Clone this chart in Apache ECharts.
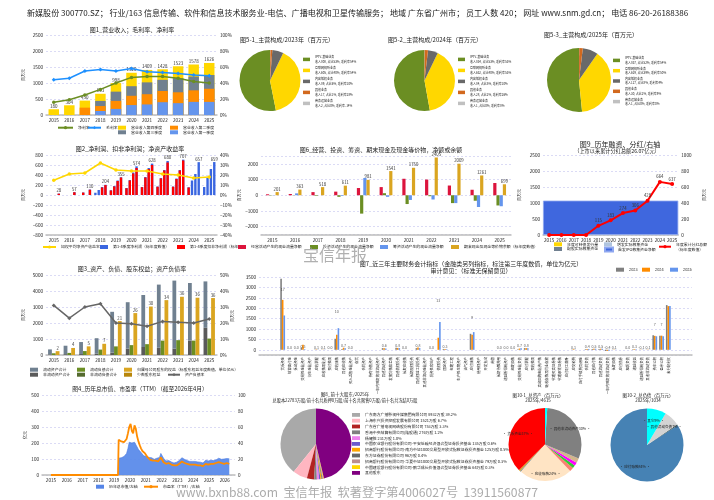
<!DOCTYPE html>
<html><head><meta charset="utf-8">
<script src="https://cdn.jsdelivr.net/npm/echarts@6/dist/echarts.min.js"></script>
<style>html,body{margin:0;padding:0;background:#fff}#c{position:absolute;left:0;top:0;width:714px;height:500px}</style>
</head><body><div id="c"></div>
<script>
// ---------------- DATA ----------------
const years = ['2015','2016','2017','2018','2019','2020','2021','2022','2023','2024','2025'];
// 图1 营业收入（累计，百万元）与利润率（%）
const revQ1   = [null,null,null,125,190,310,330,400,370,410,410];
const revH1   = [null,null,230,280,440,600,650,750,710,770,820];
const rev9M   = [null,null,null,440,730,900,1020,1100,1150,1200,1250];
const revYear = [180,304,450,663,998,1320,1409,1428,1523,1578,1626];
const netMargin   = [16,19,25,32,40,47,48,48,46,42,40];
const grossMargin = [44,46,55,57,55,58,54,53,52,50,49];
// 图2 净利润 / 扣非净利润（累计，百万元），ROE（%）
const npQ1   = [null,null,null,45,95,140,160,170,170,155,160];
const npH1   = [null,null,50,100,180,300,360,340,330,290,340];
const np9M   = [null,null,null,160,290,450,540,500,500,420,520];
const npYear = [28,57,110,204,355,574,628,680,707,657,659];
const dnpQ1   = [null,null,null,null,90,135,155,165,165,150,null];
const dnpH1   = [null,null,48,null,170,290,350,330,320,null,null];
const dnp9M   = [null,null,null,150,280,430,520,490,490,null,null];
const dnpYear = [26,55,105,198,350,540,600,650,690,null,null];
const roe = [14.7,21,22,32,25,24,24,21,20,17,18];
// 图6 现金流（百万元）
const cfOper   = [60,80,200,230,460,520,1050,1000,620,350,780];
const cfInvest = [-20,10,-40,-100,-1170,130,-560,-60,-500,-350,-650];
const cfFinance= [-10,120,0,-40,1100,-100,-300,-270,-500,-750,-700];
const cashEnd  = [201,363,518,611,981,1541,1750,2405,2009,1261,699];
// 图9 融资、分红
const convBond  = [0,0,0,0,0,0,0,0,0,0,0];
const placement = [0,0,0,0,0,0,0,0,0,0,0];
const rightsIss = [0,0,0,0,0,0,0,0,0,0,0];
const ipoNet    = [1075];
const dividends = [0,0,0,0,115,183,274,306,428,664,637];
// 图3 资产负债（百万元）
const curAssets    = [310,530,750,970,2550,2900,3250,3950,4250,3600,2900];
const nonCurAssets = [40,50,60,80,150,400,500,450,400,900,1700];
const curLiab      = [105,125,245,335,535,615,675,895,925,895,1020];
const nonCurLiab   = [5,5,5,5,5,5,5,5,5,5,10];
const parentEquity = [240,440,540,700,2120,2620,3030,3430,3640,3580,3560];
const minorityEq   = [0,0,0,0,0,0,0,0,0,0,0];
const debtRatio    = [31,23,30,32,20,19.5,18,21,20.5,20,22.5];
// 图7 近三年主要财务会计指标（百万元）
const cats7 = ['货币资金','结算备付金','拆出资金','交易性金融资产','衍生金融资产','应收票据','应收款项融资','预付款项','应收账款','其他应收款','买入返售金融资产','存货','合同资产','持有待售资产','一年内到期的非流动资产','其他流动资产','发放贷款和垫款','其他债权投资','长期应收款','长期股权投资','其他权益工具投资','其他非流动金融资产','投资性房地产','债权投资','固定资产','在建工程','生产性生物资产','油气资产','应付账款','使用权资产','开发支出','商誉','长期待摊费用','递延所得税资产','短期借款','交易性金融负债','应付票据','预收款项','卖出回购金融资产款','吸收存款及同业存放','代理买卖证券款','代理承销证券款','应付职工薪酬','应交税费','应付手续费及佣金','合同负债','其他应付款','其他流动负债','一年内到期的非流动负债','长期借款','应付债券','租赁负债','递延收益','递延所得税负债','其他非流动负债','资本公积','盈余公积','未分配利润'];
const fin2023 = [3420,0,0,100,null,10,10,0,530,40,0,null,null,null,null,80,null,100,0,null,80,null,0,0,40,null,null,null,770,null,null,null,0,0,0,30,80,null,null,null,null,null,null,20,null,30,40,40,-60,10,null,0,30,-10,10,700,680,2150];
const fin2024 = [2400,0,0,240,null,20,10,0,720,100,0,null,null,null,null,80,null,90,0,null,110,null,0,580,40,null,null,null,720,null,null,null,0,0,0,60,80,null,null,null,null,null,null,30,null,40,50,50,-50,10,null,0,30,-10,10,670,680,2100];
const fin2025 = [1650,0,0,30,null,10,10,0,1040,70,0,null,null,null,null,60,null,80,0,null,80,null,0,1340,30,null,null,null,850,null,null,null,0,0,0,70,80,null,null,null,null,null,null,10,null,40,50,50,-40,10,null,0,30,-10,10,650,650,2100];
// 图4 总市值（亿元）与市盈率TTM，月度，自2019-04起
const preListDates = ['2015-01-01','2016-01-01','2017-01-01','2018-01-01','2019-01-01','2019-03-31'];
const preListVals  = [0,0,0,0,0,0];
const mktCap = [105,110,108,112,115,118,135,165,205,
 215,200,190,205,200,175,160,150,140,130,120,118,
 115,112,110,105,108,100,98,102,105,100,110,135,
 120,105,95,88,85,90,85,82,78,75,78,80,
 85,90,100,108,105,98,95,90,88,85,88,85,
 80,85,88,82,85,80,78,75,85,92,90,88,
 90,92,95,90,92,95,100,105,102,98,95,100,
 105,103,100,101];
const peTTM = [44,45,42,42,41,43,45,52,60,
 64,55,52,62,58,48,42,37,33,30,28,27,
 25,22,20,19,19,18,17,18,18,17,18,22,
 19,16,15,14,14,15,14,13,12,12,12,12,
 13,14,15,17,16,15,14,14,13,13,14,13,
 12,13,13,12,13,12,12,11,13,14,14,13,
 14,14,15,14,14,15,15,16,15,15,14,14,
 15,15,14,14];
// 图5 主营构成
const segNames = ['IPTV-基础业务','互联网视听业务','内容版权业务','其他业务','商务运营业务'];
const seg2023Rev = [808,605,89,17,2];   const seg2023Margin = [54,54,10,28,-14];
const seg2024Rev = [834,632,84,28,1];   const seg2024Margin = [53,53,10,26,8];
const seg2025Rev = [837,629,127,30,1];  const seg2025Margin = [54,50,4,9,0];
// 图8 前十大股东（万股）
const holderNames = ['广东南方广播影视传媒集团有限公司','上海东兴投资控股发展有限公司','广东省广播电视网络股份有限公司','香港中央结算有限公司(陆股通)','杨耀胜','中国农业银行股份有限公司-平安低碳经济混合型证券投资基金','招商银行股份有限公司-南方中证1000交易型开放式指数证券投资基金','东方证券股份有限公司','招商银行股份有限公司-华夏中证1000交易型开放式指数证券投资基金','中国建设银行股份有限公司-鹏华成长价值混合型证券投资基金','其他股东'];
const holderShares = [8932,1521,753,276,231,135,125,96,79,64,10571];
const totalShares = 22783;
// 图10 资产/负债构成（百万元）
const assetNames = ['货币资金','交易性金融资产','预付款项','应收账款','其他应收款','存货','固定资产','无形资产','其他非流动资产','其他流动资产'];
const assetVals  = [1708,30,20,1080,80,60,70,90,1385,45];
const liabNames = ['应付账款','应交税费','其他流动负债','其它'];
const liabVals  = [869,5,72,88];

// ---------------- STYLE ----------------
const FONT = '"Noto Sans CJK SC","Noto Sans",sans-serif';
const C = {yellow:'#FFD700',orange:'#FF8C00',slate:'#708090',corn:'#6495ED',olive:'#6B8E23',dodger:'#1E90FF',
  royal:'#3F6FE0',red:'#FF0000',crimson:'#DC143C',gold:'#DAA520',dgold:'#B8860B',lsteel:'#B0C4DE',dgrey:'#5A5A5A',dolive:'#556B2F',grey:'#808080'};
const segColors = ['#6B8E23','#FFD700','#696969','#D2691E','#C0C0C0'];
const holderColors = ['#A9A9A9','#FFB6C1','#B22222','#808080','#EE82EE','#6A5ACD','#FFA500','#696969','#BC8F8F','#FFD700','#800080'];
const assetColors = ['#FF0000','#DAA520','#708090','#FFE4C4','#FA8072','#32CD32','#FF00FF','#D2B48C','#808080','#00FFFF'];
const liabColors = ['#4682B4','#2F4F4F','#D3D3D3','#00FFFF'];

function merge(a,b){for(const k in b){const v=b[k];if(v&&typeof v==='object'&&!Array.isArray(v)&&a[k]&&typeof a[k]==='object'&&!Array.isArray(a[k])){a[k]=merge(Object.assign({},a[k]),v);}else a[k]=v;}return a;}
const opt={animation:false,backgroundColor:'#fff',textStyle:{fontFamily:FONT},title:[],grid:[],xAxis:[],yAxis:[],legend:[],series:[],graphic:[]};
const GL={show:true,lineStyle:{color:'#c4c4ee',type:[2,2],width:0.6}};
const neg = v=>String(v).replace('-','−');
function grid(l,t,w,h){opt.grid.push({left:l,top:t,width:w,height:h,containLabel:false,outerBoundsMode:'none'});return opt.grid.length-1;}
function xcat(g,data,o){opt.xAxis.push(merge({type:'category',gridIndex:g,data,axisTick:{show:false},axisLine:{onZero:false,lineStyle:{color:'#bdbdbd',width:1.5}},axisLabel:{fontSize:4.6,color:'#222',margin:3,fontFamily:FONT,interval:0},splitLine:{show:false}},o||{}));return opt.xAxis.length-1;}
function yval(g,o){opt.yAxis.push(merge({type:'value',gridIndex:g,axisLine:{show:false},axisTick:{show:false},axisLabel:{fontSize:4.6,color:'#222',margin:3,fontFamily:FONT,formatter:neg},splitLine:GL,nameTextStyle:{fontSize:4,fontFamily:FONT,color:'#222'},nameLocation:'middle',nameRotate:90},o||{}));return opt.yAxis.length-1;}
function txt(text,x,y,size,o){opt.graphic.push({type:'text',x,y,z:50,silent:true,style:merge({text,fontSize:size,fontFamily:FONT,fill:'#222',align:'center',verticalAlign:'middle',textAlign:'center',textVerticalAlign:'middle'},o||{})});}
function legItem(name,x,yc,o){o=o||{};const fs=o.fs||3.9,ih=o.ih||4,lines=o.lines||1;const h=Math.max(ih,fs*1.3*lines);
  opt.legend.push(merge({data:[name],left:x,top:yc-h/2,padding:0,itemGap:0,itemWidth:o.iw||8,itemHeight:ih,selectedMode:false,
  textStyle:{fontSize:fs,fontFamily:FONT,color:'#222',lineHeight:fs*1.3}},o.extra||{}));}
const lbl=(fs,o)=>merge({show:true,position:'top',fontSize:fs,fontFamily:FONT,color:'#333',distance:1},o||{});

// ---------------- HEADER & WATERMARKS ----------------
txt('新媒股份 300770.SZ； 行业/163 信息传输、软件和信息技术服务业-电信、广播电视和卫星传输服务； 地域 广东省广州市； 员工人数 420； 网址 www.snm.gd.cn； 电话 86-20-26188386',27,13,8.05,{align:'left',textAlign:'left'});

// ---------------- 图1 ----------------
{
 const g=grid(46,35,171,80);
 const x=xcat(g,years);
 const yl=yval(g,{min:0,max:2500,interval:500,name:'百万元',nameGap:21});
 const yr=yval(g,{min:0,max:100,interval:20,position:'right',splitLine:{show:false},axisLabel:{formatter:v=>v+'%'}});
 const bar=(name,data,color,extra)=>opt.series.push(merge({type:'bar',name,data,xAxisIndex:x,yAxisIndex:yl,barWidth:10.5,barGap:'-100%',itemStyle:{color}},extra||{}));
 bar('营业收入第四季度',revYear,C.yellow,{label:lbl(4.5)});
 bar('营业收入第三季度',rev9M,C.slate);
 bar('营业收入第二季度',revH1,C.orange);
 bar('营业收入第一季度',revQ1,C.corn);
 opt.series.push({type:'line',name:'净利率',data:netMargin,xAxisIndex:x,yAxisIndex:yr,color:C.olive,lineStyle:{width:1.5},symbol:'circle',symbolSize:3.5,z:5});
 opt.series.push({type:'line',name:'毛利率',data:grossMargin,xAxisIndex:x,yAxisIndex:yr,color:C.dodger,lineStyle:{width:1.5},symbol:'diamond',symbolSize:4,z:5});
 txt('图1_营业收入；毛利率、净利率',132,29.5,6);
 legItem('净利率',57,127.7,{iw:15});
 legItem('毛利率',87,127.7,{iw:13});
 legItem('营业收入第四季度',118,127.7,{extra:{icon:'rect'}});
 legItem('营业收入第二季度',170,127.7,{extra:{icon:'rect'}});
 legItem('营业收入第三季度',118,132.3,{extra:{icon:'rect'}});
 legItem('营业收入第一季度',170,132.3,{extra:{icon:'rect'}});
}
// ---------------- 图2 ----------------
{
 const g=grid(46,155,171,80);
 const xa=xcat(g,years);
 const xb=xcat(g,years,{show:false});
 const yl=yval(g,{min:-800,max:800,interval:200,name:'百万元',nameGap:21});
 const yr=yval(g,{min:-40,max:40,interval:10,position:'right',splitLine:{show:false},axisLabel:{formatter:v=>neg(v)+'%'}});
 const sb=(name,data,xi,color,extra)=>opt.series.push(merge({type:'bar',name,data,xAxisIndex:xi,yAxisIndex:yl,barWidth:2.4,barGap:'40%',itemStyle:{color}},extra||{}));
 sb('np1',npQ1,xa,'#3A66E0');sb('np2',npH1,xa,'#3A66E0');sb('np3',np9M,xa,'#3A66E0');
 sb('第1-4季度净利润（标年度数值）',npYear,xa,'#3A66E0',{label:lbl(4.3)});
 sb('dnp1',dnpQ1,xb,C.red);sb('dnp2',dnpH1,xb,C.red);sb('dnp3',dnp9M,xb,C.red);
 sb('第1-4季度扣非净利润（标年度数值）',dnpYear,xb,C.red);
 opt.series.push({type:'line',name:'加权平均净资产收益率',data:roe,xAxisIndex:xa,yAxisIndex:yr,color:C.yellow,lineStyle:{width:1.5},symbol:'circle',symbolSize:3.5,z:5});
 txt('图2_净利润、扣非净利润；净资产收益率',130,149,6);
 legItem('加权平均净资产收益率',42,247,{iw:13});
 legItem('第1-4季度净利润（标年度数值）',100,247,{extra:{icon:'rect'}});
 legItem('第1-4季度扣非净利润（标年度数值）',177,247,{extra:{icon:'rect',textStyle:{width:50,overflow:'truncate',ellipsis:''}}});
}
// ---------------- 图6 ----------------
{
 const g=grid(261,156,250,78.5);
 const x=xcat(g,years);
 const y=yval(g,{min:-2500,max:2500,splitNumber:5,axisLabel:{showMinLabel:false,showMaxLabel:false},name:'百万元',nameGap:14});
 const sb=(name,data,color,extra)=>opt.series.push(merge({type:'bar',name,data,xAxisIndex:x,yAxisIndex:y,barWidth:3.2,barGap:'0%',itemStyle:{color}},extra||{}));
 sb('经营活动产生的现金流量净额',cfOper,C.crimson);
 sb('投资活动产生的现金流量净额',cfInvest,C.olive);
 sb('筹资活动产生的现金流量净额',cfFinance,C.corn);
 sb('期末现金及现金等价物余额（标年度数值）',cashEnd,C.gold,{label:lbl(4.3)});
 txt('图6_经营、投资、筹资、期末现金及现金等价物，净额或余额',381,150,6);
 legItem('经营活动产生的现金流量净额',238,247,{extra:{icon:'rect'}});
 legItem('投资活动产生的现金流量净额',310,247,{extra:{icon:'rect'}});
 legItem('筹资活动产生的现金流量净额',380,247,{extra:{icon:'rect'}});
 legItem('期末现金及现金等价物余额（标年度数值）',451,247,{extra:{icon:'rect'}});
}
// ---------------- 图9 ----------------
{
 const g=grid(543,155,135.3,80);
 const x=xcat(g,years);
 const xi=xcat(g,['首发IPO'],{show:false});
 const yl=yval(g,{min:0,max:2500,interval:500,name:'百万元',nameGap:22});
 const yr=yval(g,{min:0,max:1000,interval:200,position:'right',splitLine:{show:false},name:'百万元',nameGap:24});
 opt.series.push({type:'bar',name:'首发IPO募集资金净额',data:ipoNet,xAxisIndex:xi,yAxisIndex:yl,barWidth:'100%',itemStyle:{color:'#3F67DE',borderColor:'#8FA8F0',borderWidth:0.8}});
 const sb=(name,data,color)=>opt.series.push({type:'bar',name,data,xAxisIndex:x,yAxisIndex:yl,barWidth:4,itemStyle:{color}});
 sb('年度可转债发行量',convBond,C.yellow);
 sb('增发实际募集资金',placement,C.lsteel);
 sb('配股实际募集资金',rightsIss,C.slate);
 opt.series.push({type:'line',name:'年度累计分红总额',data:dividends,xAxisIndex:x,yAxisIndex:yr,color:C.red,lineStyle:{width:2},symbol:'circle',symbolSize:4,z:6,
   label:lbl(4.3,{formatter:p=>p.value?p.value:''})});
 txt('图9_历年融资、分红/右轴',620,144,7);
 txt('（上市以来累计分红总额26.07亿元）',617,151.5,5.2);
 legItem('年度可转债发行量',554,244.3,{extra:{icon:'rect'}});
 legItem('增发实际募集资金',604,244.3,{extra:{icon:'rect'}});
 legItem('配股实际募集资金',554,249,{extra:{icon:'rect'}});
 legItem('首发IPO募集资金净额',604,249,{extra:{icon:'rect'}});
 legItem('年度累计分红总额',658,246.7,{iw:12,lines:2,extra:{formatter:n=>n+'\n（标年度数值）'}});
}
// ---------------- 图3 ----------------
{
 const g=grid(46,275,171,80);
 const x=xcat(g,years);
 const yl=yval(g,{min:0,max:5000,interval:1000,name:'百万元',nameGap:21});
 const yr=yval(g,{min:0,max:50,interval:10,position:'right',splitLine:{show:false},axisLabel:{formatter:v=>v+'%'}});
 const sb=(name,data,stack,color,extra)=>opt.series.push(merge({type:'bar',name,data,stack,xAxisIndex:x,yAxisIndex:yl,barWidth:3.8,barGap:'0%',itemStyle:{color}},extra||{}));
 sb('非流动资产合计',nonCurAssets,'a',C.dgrey);
 sb('流动资产合计',curAssets,'a',C.slate);
 sb('流动负债合计',curLiab,'l',C.olive);
 sb('非流动负债合计',nonCurLiab,'l',C.dolive);
 sb('归属母公司股东的权益（标股东权益年度数值，单位亿元）',parentEquity,'e',C.gold,{label:lbl(4.3,{formatter:p=>Math.round(p.value/100)})});
 sb('少数股东权益',minorityEq,'e',C.dgold);
 opt.series.push({type:'line',name:'资产负债率',data:debtRatio,xAxisIndex:x,yAxisIndex:yr,color:'#666',lineStyle:{width:1.5},symbol:'diamond',symbolSize:4,z:6});
 txt('图3_资产、负债、股东权益；资产负债率',132,269,6);
 legItem('流动资产合计',30,369.7,{extra:{icon:'rect'}});
 legItem('流动负债合计',77,369.7,{extra:{icon:'rect'}});
 legItem('归属母公司股东的权益（标股东权益年度数值，单位亿元）',124,369.7,{extra:{icon:'rect'}});
 legItem('非流动资产合计',30,374.7,{extra:{icon:'rect'}});
 legItem('非流动负债合计',77,374.7,{extra:{icon:'rect'}});
 legItem('少数股东权益',124,374.7,{extra:{icon:'rect'}});
 legItem('资产负债率',167,374.7,{iw:12});
}
// ---------------- 图7 ----------------
{
 const pad=[null,null,null];
 const catsP=['','',''].concat(cats7,['','','']);
 const P=a=>pad.concat(a,pad);
 const g=grid(259,277,433,78);
 const x=xcat(g,catsP,{axisLabel:{rotate:90,fontSize:3.4,margin:2}});
 const y=yval(g,{min:-250,max:3500,splitNumber:7,axisLabel:{showMinLabel:false},name:'百万元',nameGap:17});
 const sb=(name,data,color)=>opt.series.push({type:'bar',name,data:P(data),xAxisIndex:x,yAxisIndex:y,barWidth:1.6,barGap:'0%',itemStyle:{color}});
 sb('2023',fin2023,C.grey);
 sb('2024',fin2024,C.orange);
 sb('2025',fin2025,C.corn);
 const fmt=v=>{const t=v/100;return Math.abs(t)>=5?t.toFixed(0):t.toFixed(1);};
 opt.series.push({type:'scatter',name:'lbl7',xAxisIndex:x,yAxisIndex:y,symbolSize:0,silent:true,
   data:P(fin2025).map(v=>v==null?null:{value:Math.max(v,0)*1.7,raw:v}),
   label:{show:true,position:'top',distance:0,fontSize:3.6,fontFamily:FONT,color:'#333',formatter:p=>fmt(p.data.raw)}});
 txt('图7_近三年主要财务会计指标（金融类另列指标，标注第三年度数值，单位为亿元）',471,264,6);
 txt('审计意见：（标准无保留意见）',471,270.5,6);
 legItem('2023',616,269.7,{extra:{icon:'rect'}});
 legItem('2024',642,269.7,{extra:{icon:'rect'}});
 legItem('2025',670,269.7,{extra:{icon:'rect'}});
}
// ---------------- 图4 ----------------
{
 const months=mktCap.map((_,i)=>{const m=3+i;return (2019+Math.floor(m/12))+'-'+String(m%12+1).padStart(2,'0')+'-15';});
 const g=grid(42,395,193,80);
 opt.xAxis.push({type:'time',gridIndex:g,min:'2014-06-08',max:'2026-08-25',splitNumber:12,minInterval:365*864e5,maxInterval:366*864e5,
   axisTick:{show:false},axisLine:{onZero:false,lineStyle:{color:'#bdbdbd',width:1.5}},splitLine:{show:false},
   axisLabel:{formatter:'{yyyy}',fontSize:4.6,color:'#222',margin:3,fontFamily:FONT,hideOverlap:false}});
 const x=opt.xAxis.length-1;
 const yl=yval(g,{min:0,max:500,interval:100,name:'亿元',nameGap:14});
 const yr=yval(g,{min:0,max:100,interval:20,position:'right',splitLine:{show:false}});
 const mc=preListDates.map((d,i)=>[d,preListVals[i]]).concat(months.map((d,i)=>i===months.length-1?{value:[d,mktCap[i]],label:{show:true,position:'top',fontSize:3.8,distance:1,color:'#333'}}:[d,mktCap[i]]));
 const pe=preListDates.map((d,i)=>[d,preListVals[i]]).concat(months.map((d,i)=>[d,peTTM[i]]));
 opt.series.push({type:'line',name:'历年总市值/左轴',data:mc,xAxisIndex:x,yAxisIndex:yl,color:'#5585E8',symbol:'none',lineStyle:{width:0.6,color:'#4A78E0'},areaStyle:{color:'#5B8BEA',opacity:0.95}});
 opt.series.push({type:'line',name:'市盈率（TTM）/右轴',data:pe,xAxisIndex:x,yAxisIndex:yr,color:C.orange,symbol:'none',lineStyle:{width:1.8},z:5});
 txt('图4_历年总市值、市盈率（TTM）（截至2026年4月）',140,389,5.8);
 legItem('历年总市值/左轴',96,486.7,{extra:{icon:'rect'}});
 legItem('市盈率（TTM）/右轴',143,486.7,{iw:14});
}
// ---------------- 图5 pies ----------------
function segPie(cx,cy,r,rev,margin,title,tx,ty,lx,ly,lgap){
 const total=rev.reduce((a,b)=>a+b,0);
 opt.series.push({type:'pie',center:[cx,cy],radius:r,startAngle:90,clockwise:false,silent:true,label:{show:false},labelLine:{show:false},
   data:segNames.map((n,i)=>({name:n,value:rev[i],itemStyle:{color:segColors[i]}}))});
 txt(title,tx,ty,6);
 const info={};segNames.forEach((n,i)=>{info[n]='收入'+rev[i]+', 占比'+Math.round(rev[i]/total*100)+'%, 毛利率'+margin[i]+'%';});
 opt.legend.push({data:segNames,orient:'vertical',left:lx,top:ly,padding:0,itemGap:lgap,itemWidth:7,itemHeight:3.5,icon:'rect',selectedMode:false,
   formatter:n=>n+'\n'+info[n],textStyle:{fontSize:3,lineHeight:4.4,fontFamily:FONT,color:'#222'}});
}
segPie(270,80.5,30.5,seg2023Rev,seg2023Margin,'图5-1_主营构成/2023年（百万元）',287,40,303,55,2.2);
segPie(424.5,80.5,30.5,seg2024Rev,seg2024Margin,'图5-2_主营构成/2024年（百万元）',435,40,458,55,2.2);
segPie(579,80,32,seg2025Rev,seg2025Margin,'图5-3_主营构成/2025年（百万元）',591,35,613,56,1.5);
// ---------------- 图8 ----------------
{
 opt.series.push({type:'pie',center:[316,444],radius:35.5,startAngle:90,clockwise:false,silent:true,label:{show:false},labelLine:{show:false},
   data:holderNames.map((n,i)=>({name:n,value:holderShares[i],itemStyle:{color:holderColors[i]}}))});
 const info={};holderNames.forEach((n,i)=>{info[n]=(i===holderNames.length-1)?n:n+' '+holderShares[i]+'万股 '+(holderShares[i]/totalShares*100).toFixed(1)+'%';});
 opt.legend.push({data:holderNames,orient:'vertical',left:352,top:412.5,padding:0,itemGap:1.0,itemWidth:8,itemHeight:3.8,icon:'rect',selectedMode:false,
   formatter:n=>info[n],textStyle:{fontSize:3.9,lineHeight:4.8,fontFamily:FONT,color:'#222'}});
 txt('图8_前十大股东/2025年',345,394,4.5);
 txt('总股本22783万股/前十名共质押0万股/前十名共限售0万股/前十名共冻结0万股',345,400,4.2);
}
// ---------------- 图10 ----------------
function compPie(cx,cy,r,names,vals,colors,show,labR){
 const d=names.map((n,i)=>({name:n,value:vals[i],itemStyle:{color:colors[i]}}));
 opt.series.push({type:'pie',center:[cx,cy],radius:r,startAngle:90,clockwise:false,silent:true,label:{show:false},labelLine:{show:false},data:d});
 opt.series.push({type:'pie',center:[cx,cy],radius:r*labR*2,startAngle:90,clockwise:false,silent:true,z:8,labelLine:{show:false},
   itemStyle:{color:'rgba(0,0,0,0)'},
   label:{show:true,position:'inside',fontSize:3.6,fontFamily:FONT,color:'#222',formatter:p=>show.includes(p.name)?'· '+p.name+Math.round(p.percent)+'% ·':''},
   data:names.map((n,i)=>({name:n,value:vals[i]}))});
}
compPie(545,444.5,36.5,assetNames,assetVals,assetColors,['货币资金','其他非流动资产','应收账款'],0.72);
txt('图10-1_总资产（百万元）',538,395,4.4);
txt('2025年/4615',538,400.5,4.4);
compPie(647,445,36.5,liabNames,liabVals,liabColors,['应付账款','其他流动负债','其它'],0.6);
txt('图10-2_总负债（百万元）',648,395,4.4);
txt('2025年/1034',648,400.5,4.4);

// watermarks
txt('宝信年报',335,255,16,{fill:'rgba(150,150,150,0.75)'});
txt('www.bxnb88.com  宝信年报  软著登字第4006027号  13911560877',357,492,12.2,{fill:'rgba(150,150,150,0.8)'});

const chart=echarts.init(document.getElementById('c'),null,{renderer:'canvas',width:714,height:500});
chart.setOption(opt);
</script></body></html>
